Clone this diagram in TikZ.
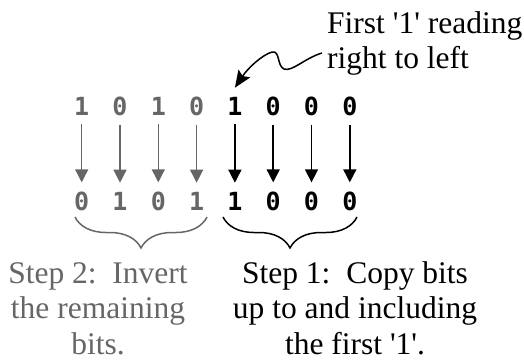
\documentclass[tikz,border=0pt]{standalone}
\usepackage{fontspec}
\setmainfont{Liberation Serif}
\newfontfamily\bitfont{DejaVu Sans Mono}
\usetikzlibrary{arrows.meta,decorations.pathreplacing}

\definecolor{bitgray}{HTML}{666666}

\tikzset{
    bit/.style={font=\bitfont\bfseries\fontsize{25}{25}\selectfont, inner xsep=0pt, inner ysep=9pt},
    label/.style={font=\fontsize{31.5}{35.5}\selectfont, inner sep=0pt},
    copyarrow/.style={line width=1.5pt, -{Triangle[width=13pt,length=13pt]}},
    stepbrace/.style={line width=1.5pt, decorate, decoration={brace, mirror, amplitude=31pt}}
}

\begin{document}
\begin{tikzpicture}[x=1pt, y=1pt]
        \useasboundingbox (0,0) rectangle (524,-360);

        % Obere Zeile
        \node[bit, bitgray] at (81.7,-106) (a1) {1};
        \node[bit, bitgray] at (120,-106) (a2) {0};
        \node[bit, bitgray] at (158.3,-106) (a3) {1};
        \node[bit, bitgray] at (196.6,-106) (a4) {0};
        \node[bit] at (234.9,-106) (a5) {1};
        \node[bit] at (273.2,-106) (a6) {0};
        \node[bit] at (311.5,-106) (a7) {0};
        \node[bit] at (349.8,-106) (a8) {0};

        % Untere Zeile
        \node[bit, bitgray] at (81.7,-201) (b1) {0};
        \node[bit, bitgray] at (120,-201) (b2) {1};
        \node[bit, bitgray] at (158.3,-201) (b3) {0};
        \node[bit, bitgray] at (196.6,-201) (b4) {1};
        \node[bit] at (234.9,-201) (b5) {1};
        \node[bit] at (273.2,-201) (b6) {0};
        \node[bit] at (311.5,-201) (b7) {0};
        \node[bit] at (349.8,-201) (b8) {0};

        % Pfeile
        \draw[copyarrow, bitgray] (a1) -- (b1);
        \draw[copyarrow, bitgray] (a2) -- (b2);
        \draw[copyarrow, bitgray] (a3) -- (b3);
        \draw[copyarrow, bitgray] (a4) -- (b4);
        \draw[copyarrow] (a5) -- (b5);
        \draw[copyarrow] (a6) -- (b6);
        \draw[copyarrow] (a7) -- (b7);
        \draw[copyarrow] (a8) -- (b8);

        % Klammern
        \draw[stepbrace, bitgray] (75,-217) -- (207,-217);
        \draw[stepbrace] (223,-217) -- (357,-217);

        % Beschriftungen
        \node[label, bitgray, anchor=base] at (98,-283) (step2)
            {\begin{tabular}[t]{@{}c@{}}Step 2:\ \ Invert\\the remaining\\bits.\end{tabular}};
        \node[label, anchor=base] at (355,-283) (step1)
            {\begin{tabular}[t]{@{}c@{}}Step 1:\ \ Copy bits\\up to and including\\the first \textquotesingle 1\textquotesingle.\end{tabular}};
        \node[label, anchor=base west] at (327,-33) (note)
            {\begin{tabular}[t]{@{}l@{}}First \textquotesingle 1\textquotesingle\ reading\\right to left\end{tabular}};

        % Hinweispfeil
        \coordinate (tail) at (322,-53);
        \draw[line width=1.5pt, -{Stealth[length=17pt,width=14pt,inset=3pt]}]
            (tail) .. controls (305,-58) and (292,-72) .. (284,-69)
            .. controls (277,-66) and (280,-50) .. (272,-52)
            .. controls (262,-55) and (248,-68) .. (a5.north);

    \end{tikzpicture}
\end{document}
